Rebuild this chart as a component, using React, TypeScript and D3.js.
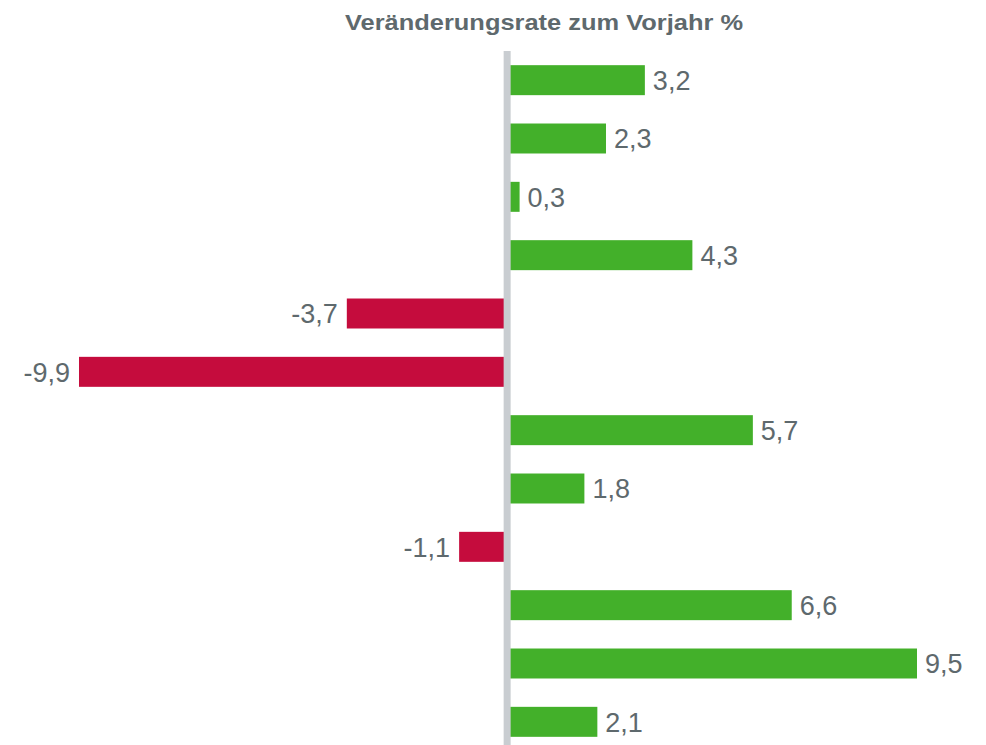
import React, { useEffect, useRef } from 'react';
import * as d3 from 'd3';

// rows top to bottom (no category labels shown in the chart)
const rows = ['r1', 'r2', 'r3', 'r4', 'r5', 'r6', 'r7', 'r8', 'r9', 'r10', 'r11', 'r12'];
const values = [3.2, 2.3, 0.3, 4.3, -3.7, -9.9, 5.7, 1.8, -1.1, 6.6, 9.5, 2.1];
const title = 'Veränderungsrate zum Vorjahr %';

const App = () => {
  const svgRef = useRef<SVGSVGElement>(null);

  useEffect(() => {
    const width = 986;
    const height = 745;
    const green = '#43b02a';
    const red = '#c50c3d';
    const textGray = '#5e696d';

    const svg = d3.select(svgRef.current);
    svg.selectAll('*').remove();
    svg.attr('width', width).attr('height', height);

    const x = d3.scaleLinear().domain([-9.9, 9.5]).range([79, 917]);
    const y = d3.scaleBand<string>()
      .domain(rows)
      .range([51, 751])
      .paddingInner(0.486)
      .paddingOuter(0.243);

    const data = rows.map((r, i) => ({ row: r, value: values[i] }));

    // title (glyphs are stretched a bit in the original)
    svg.append('text')
      .attr('x', 345)
      .attr('y', 30)
      .attr('textLength', 398)
      .attr('lengthAdjust', 'spacingAndGlyphs')
      .style('font-family', '"Liberation Sans", Arial, sans-serif')
      .style('font-size', '22px')
      .style('font-weight', 'bold')
      .style('fill', textGray)
      .text(title);

    // bars
    svg.selectAll('.bar')
      .data(data)
      .enter().append('rect')
      .attr('class', 'bar')
      .attr('x', d => Math.min(x(0), x(d.value)))
      .attr('y', d => y(d.row)!)
      .attr('width', d => Math.abs(x(d.value) - x(0)))
      .attr('height', y.bandwidth())
      .style('fill', d => (d.value < 0 ? red : green));

    // zero axis line, drawn over the bar roots
    svg.append('rect')
      .attr('x', x(0) - 3)
      .attr('y', 51)
      .attr('width', 7)
      .attr('height', height - 51)
      .style('fill', '#c9cdd1');

    // value labels
    svg.selectAll('.label')
      .data(data)
      .enter().append('text')
      .attr('class', 'label')
      .attr('x', d => (d.value < 0 ? x(d.value) - 9 : x(d.value) + 8))
      .attr('y', d => y(d.row)! + y.bandwidth() / 2)
      .attr('dy', '0.36em')
      .attr('text-anchor', d => (d.value < 0 ? 'end' : 'start'))
      .style('font-family', '"Liberation Sans", Arial, sans-serif')
      .style('font-size', '27px')
      .style('fill', textGray)
      .text(d => d3.format('.1f')(d.value).replace('.', ',').replace('−', '-'));
  }, []);

  return (
    <svg ref={svgRef} style={{ position: 'absolute', left: 0, top: 0, display: 'block' }}></svg>
  );
};

export default App;
